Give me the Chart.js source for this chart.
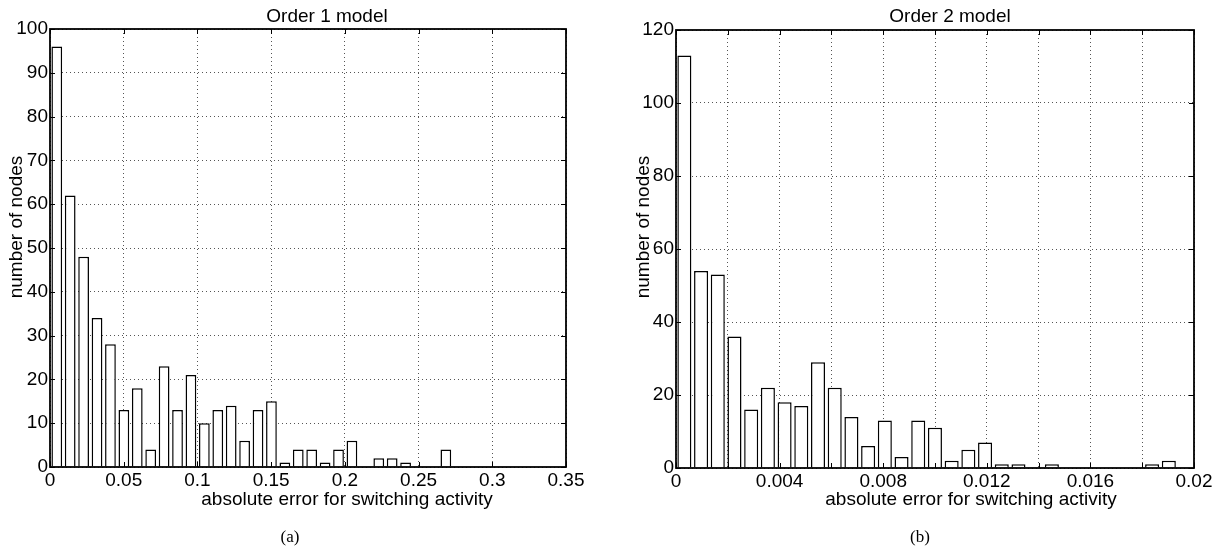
<!DOCTYPE html>
<html>
<head>
<meta charset="utf-8">
<script src="https://cdn.jsdelivr.net/npm/chart.js@4.4.1/dist/chart.umd.min.js"></script>
<style>
  body { margin: 0; background: #fff; }
  .panel { position: absolute; top: 0; height: 548px; }
  #panelA { left: 0; width: 610px; }
  #panelB { left: 610px; width: 611px; }
</style>
</head>
<body>
<div class="panel" id="panelA"><canvas id="order1Chart" width="610" height="548"></canvas></div>
<div class="panel" id="panelB"><canvas id="order2Chart" width="611" height="548"></canvas></div>
<script>
// (a) order 1 model: 30 histogram bins, centres and counts
const order1Bins = [0.0046, 0.0137, 0.0228, 0.0319, 0.0410, 0.0501, 0.0592, 0.0683, 0.0774, 0.0865,
  0.0956, 0.1047, 0.1138, 0.1229, 0.1320, 0.1411, 0.1502, 0.1593, 0.1684, 0.1775,
  0.1866, 0.1957, 0.2048, 0.2139, 0.2230, 0.2321, 0.2412, 0.2503, 0.2594, 0.2685];
const order1Counts = [96, 62, 48, 34, 28, 13, 18, 4, 23, 13,
  21, 10, 13, 14, 6, 13, 15, 1, 4, 4,
  1, 4, 6, 0, 2, 2, 1, 0, 0, 4];
const order1XTicks = [0, 0.05, 0.1, 0.15, 0.2, 0.25, 0.3, 0.35];
const order1XLabels = ["0", "0.05", "0.1", "0.15", "0.2", "0.25", "0.3", "0.35"];
const order1YTicks = [0, 10, 20, 30, 40, 50, 60, 70, 80, 90, 100];

// (b) order 2 model
const order2Bins = [0.000323, 0.000968, 0.001613, 0.002258, 0.002903, 0.003548, 0.004193, 0.004838, 0.005483, 0.006128,
  0.006773, 0.007418, 0.008063, 0.008708, 0.009353, 0.009998, 0.010643, 0.011288, 0.011933, 0.012578,
  0.013223, 0.013868, 0.014513, 0.015158, 0.015803, 0.016448, 0.017093, 0.017738, 0.018383, 0.019028];
const order2Counts = [113, 54, 53, 36, 16, 22, 18, 17, 29, 22,
  14, 6, 13, 3, 13, 11, 2, 5, 7, 1,
  1, 0, 1, 0, 0, 0, 0, 0, 1, 2];
const order2XTicks = [0, 0.002, 0.004, 0.006, 0.008, 0.01, 0.012, 0.014, 0.016, 0.018, 0.02];
const order2XLabels = ["0", "", "0.004", "", "0.008", "", "0.012", "", "0.016", "", "0.02"];
const order2YTicks = [0, 20, 40, 60, 80, 100, 120];

Chart.defaults.font.family = '"Liberation Sans", Arial, Helvetica, sans-serif';
Chart.defaults.font.size = 19;
Chart.defaults.color = "#000";

// matlab style box, inward ticks and the labels
const matlabAxes = {
  id: "matlabAxes",
  afterDatasetsDraw(chart) {
    const { ctx, chartArea: a, scales } = chart;
    ctx.save();
    ctx.strokeStyle = "#000";
    ctx.lineWidth = 1;
    ctx.beginPath();
    scales.x.ticks.forEach((t) => {
      const px = Math.round(scales.x.getPixelForValue(t.value)) + 0.5;
      ctx.moveTo(px, a.bottom); ctx.lineTo(px, a.bottom - 5);
      ctx.moveTo(px, a.top); ctx.lineTo(px, a.top + 5);
    });
    scales.y.ticks.forEach((t) => {
      const py = Math.round(scales.y.getPixelForValue(t.value)) + 0.5;
      ctx.moveTo(a.left, py); ctx.lineTo(a.left + 5, py);
      ctx.moveTo(a.right, py); ctx.lineTo(a.right - 5, py);
    });
    ctx.stroke();
    ctx.lineWidth = 1.8;
    ctx.strokeRect(a.left, a.top, a.right - a.left, a.bottom - a.top);
    ctx.restore();
  },
  afterDraw(chart, args, opts) {
    const ctx = chart.ctx;
    ctx.save();
    ctx.fillStyle = "#000";
    ctx.textAlign = "center";
    ctx.textBaseline = "middle";
    ctx.font = '19px "Liberation Sans", Arial, sans-serif';
    ctx.fillText(opts.title, opts.titleX, 17);
    ctx.fillText(opts.xLabel, opts.xLabelX, 500);
    ctx.save();
    ctx.translate(opts.yLabelX, 227);
    ctx.rotate(-Math.PI / 2);
    ctx.fillText(opts.yLabel, 0, 0);
    ctx.restore();
    ctx.font = '17px "Liberation Serif", "Times New Roman", serif';
    ctx.fillText(opts.caption, opts.captionX, 538);
    ctx.restore();
  },
};

function makeHistogram(canvasId, bins, counts, xTicks, xLabels, yTicks, cfg) {
  return new Chart(document.getElementById(canvasId), {
    type: "bar",
    data: {
      datasets: [
        {
          data: bins.map((b, i) => ({ x: b, y: counts[i] })),
          backgroundColor: "#fff",
          borderColor: "#000",
          borderWidth: 1.5,
          barPercentage: cfg.barPct,
          categoryPercentage: 1,
        },
      ],
    },
    options: {
      responsive: false,
      animation: false,
      events: [],
      layout: { padding: { top: cfg.top, right: cfg.right, left: 0, bottom: 0 } },
      plugins: {
        legend: { display: false },
        tooltip: { enabled: false },
        matlabAxes: cfg.text,
      },
      scales: {
        x: {
          type: "linear",
          offset: false,
          min: xTicks[0],
          max: xTicks[xTicks.length - 1],
          afterBuildTicks: (s) => { s.ticks = xTicks.map((v) => ({ value: v })); },
          afterFit: (s) => { s.height = cfg.xHeight; },
          ticks: {
            autoSkip: false,
            maxRotation: 0,
            padding: 2,
            callback: (v, i) => xLabels[i],
          },
          grid: { color: "#555", lineWidth: 1, drawTicks: false, offset: false },
          border: { display: false, dash: [1, 3] },
        },
        y: {
          min: yTicks[0],
          max: yTicks[yTicks.length - 1],
          afterBuildTicks: (s) => { s.ticks = yTicks.map((v) => ({ value: v })); },
          afterFit: (s) => { s.width = cfg.yWidth; },
          ticks: { padding: 2 },
          grid: { color: "#555", lineWidth: 1, drawTicks: false },
          border: { display: false, dash: [1, 3] },
        },
      },
    },
    plugins: [matlabAxes],
  });
}

const chartA = makeHistogram("order1Chart", order1Bins, order1Counts, order1XTicks, order1XLabels, order1YTicks, {
  barPct: 0.8, top: 29, right: 44, xHeight: 81, yWidth: 50,
  text: {
    title: "Order 1 model", titleX: 327,
    xLabel: "absolute error for switching activity", xLabelX: 347,
    yLabel: "number of nodes", yLabelX: 17,
    caption: "(a)", captionX: 290,
  },
});

const chartB = makeHistogram("order2Chart", order2Bins, order2Counts, order2XTicks, order2XLabels, order2YTicks, {
  barPct: 0.84, top: 30, right: 27, xHeight: 80, yWidth: 66,
  text: {
    title: "Order 2 model", titleX: 340,
    xLabel: "absolute error for switching activity", xLabelX: 361,
    yLabel: "number of nodes", yLabelX: 34,
    caption: "(b)", captionX: 310,
  },
});
</script>
</body>
</html>
